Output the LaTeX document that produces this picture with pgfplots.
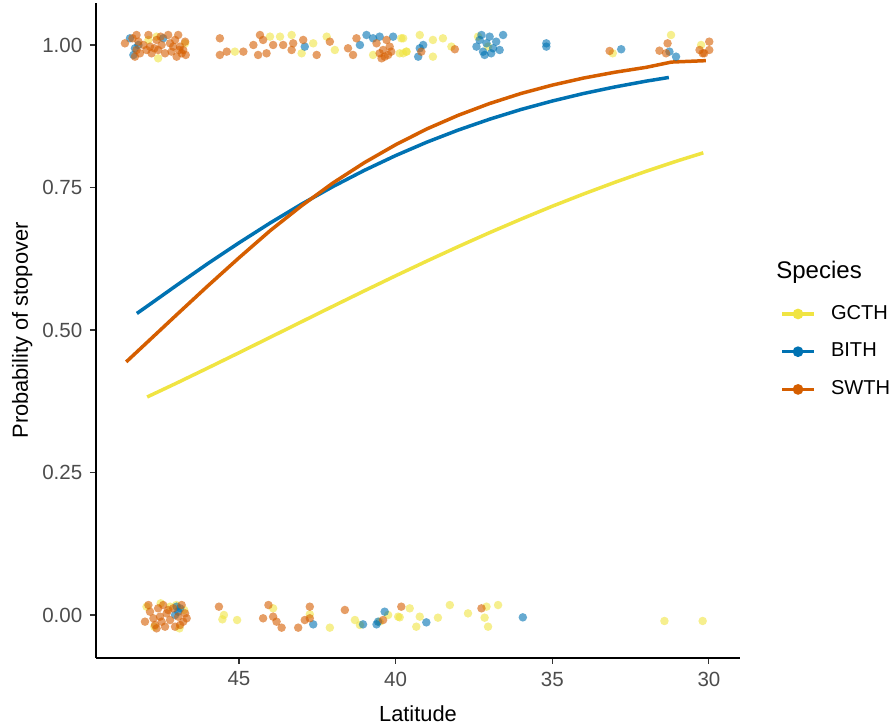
\documentclass[border=0pt]{standalone}
\usepackage{fontspec}
\setmainfont{Liberation Sans}
\usepackage{pgfplots}
\pgfplotsset{compat=1.18}
\definecolor{gcth}{HTML}{F0E442}
\definecolor{bith}{HTML}{0072B2}
\definecolor{swth}{HTML}{D55E00}
\pgfplotsset{jit/.style={only marks, mark=*, mark size=1.95pt, forget plot,
  draw=none, fill=#1, mark options={draw opacity=0, fill opacity=0.6, fill=#1}}}
\begin{document}
\begin{tikzpicture}
\useasboundingbox (-43.97pt,-30.69pt) rectangle (365.03pt,301.36pt);
\begin{axis}[
  scale only axis, width=294.95pt, height=300.0pt,
  x dir=reverse, xmin=29.009, xmax=49.564,
  ymin=-0.0754, ymax=1.0737,
  axis x line*=bottom, axis y line*=left,
  axis line style={black, line width=0.6pt, -},
  tick align=outside, major tick length=2.75pt,
  tick style={black!80, line width=0.5pt},
  xtick={30,35,40,45},
  ytick={0,0.25,0.5,0.75,1},
  yticklabels={0.00,0.25,0.50,0.75,1.00},
  /pgf/number format/assume math mode=true,
  tick label style={font=\fontsize{9.4}{11}\selectfont, text=black!70},
  xlabel={Latitude}, ylabel={Probability of stopover},
  label style={font=\fontsize{11}{13}\selectfont},
  every axis x label/.style={at={(axis description cs:0.5,-0.0962)}, anchor=base},
  every axis y label/.style={at={(axis description cs:-0.1056,0.5)}, anchor=base, rotate=90},
  legend style={at={(axis description cs:1.062,0.4676)}, anchor=west, draw=none, fill=none,
    inner sep=0pt, row sep=9.4pt, column sep=7pt,
    font=\fontsize{9.2}{11}\selectfont, nodes={inner sep=0pt}},
  legend cell align=left,
  legend image code/.code={\draw[line width=1.6pt] (0pt,0pt) -- (14.6pt,0pt); \fill (7.3pt,0pt) circle (1.6pt);},
  clip=false,
]
% ---- jittered observations ----
\addplot[jit=gcth] coordinates {
(47.63,1.0146)(47.58,0.9766)(46.72,1.0029)(47.89,1.0088)
(45.13,0.9883)(44.01,1.0146)(43.69,1.0146)(43.32,1.0175)(43.00,0.9854)(42.63,1.0029)(42.20,1.0146)(41.94,0.9912)(40.72,0.9825)(39.82,1.0117)(39.87,0.9854)(39.66,0.9883)
(39.76,1.0117)(39.76,0.9854)(39.23,1.0175)(39.65,0.9883)(38.81,1.0088)(38.49,1.0117)(38.81,0.9795)(38.22,0.9971)(37.37,1.0146)(37.05,0.9971)(31.21,1.0175)(30.25,1.0)(33.07,0.9854)
(47.95,0.0146)(47.5,0.0205)(47.0,0.0175)(46.9,-0.0234)(47.7,-0.0205)(46.75,0.0088)(47.2,0.0146)
(45.48,0.0)(45.53,-0.0076)(45.06,-0.0088)(43.91,0.0117)(42.74,0.0012)(42.10,-0.0222)(41.30,-0.0088)(41.14,-0.0175)(40.24,0.0)(39.92,-0.0029)(40.51,-0.0117)
(39.87,-0.0041)(39.55,0.0117)(39.23,-0.0029)(39.34,-0.0205)(38.65,-0.0047)(38.27,0.0175)(37.69,0.0029)(37.16,-0.0047)(37.10,0.0146)(37.05,-0.0205)(36.73,0.0175)(31.42,-0.0105)(30.20,-0.0105)
};
\addplot[jit=bith] coordinates {
(48.48,1.0117)(48.37,0.9825)(48.32,0.9942)(47.42,1.0117)(48.21,1.0)
(42.90,0.9971)(40.93,1.0175)(40.72,1.0117)(40.51,1.0146)(40.08,1.0146)(41.14,1.0)
(39.23,0.9942)(39.28,0.9795)(39.12,1.0)(37.42,0.9971)(37.32,1.0088)(37.21,0.9883)(37.10,1.0029)(37.00,1.0146)(36.89,0.9942)(36.79,1.0058)(36.68,0.9912)(36.57,1.0175)(37.16,0.9825)(36.95,0.9854)(37.26,1.0175)(35.19,0.9971)(35.19,1.0029)(32.80,0.9925)(31.26,0.9883)(31.05,0.9795)
(46.99,0.0146)(46.94,0.0058)(46.88,0.0117)(47.04,0.0)
(42.63,-0.0164)(41.04,-0.0164)(40.61,-0.0164)(40.35,0.0058)(40.56,-0.0117)
(39.02,-0.0129)(35.94,-0.0041)
};
\addplot[jit=swth] coordinates {
(48.64,1.0029)(48.27,1.0175)(48.21,1.0058)(48.27,0.9912)(48.16,0.9854)(48.32,0.9795)
(47.89,1.0175)(47.84,0.9971)(47.79,0.9854)(47.63,1.0088)(47.58,0.9912)(47.47,1.0)(47.36,0.9854)
(47.26,1.0175)(47.20,1.0029)(47.15,0.9883)(47.04,1.0088)(46.99,0.9795)(46.94,1.0175)(46.88,0.9971)(46.83,0.9854)(46.72,1.0058)(46.78,0.9912)
(48.05,1.0)(47.7,0.9942)(47.1,0.9971)(46.9,0.9912)(47.5,1.0146)(46.7,0.9825)(48.4,1.0117)(47.95,0.9912)
(45.61,1.0117)(45.61,0.9825)(45.39,0.9883)(44.86,0.9883)(44.54,1.0)(44.33,1.0175)(44.23,1.0088)(44.39,0.9825)(44.12,0.9854)(43.91,1.0)(43.59,1.0)(43.27,1.0029)(43.32,0.9912)(42.95,1.0088)(42.52,0.9825)(42.10,1.0058)(41.52,0.9942)(41.36,0.9825)(41.25,1.0117)
(40.40,0.9912)(40.35,0.9795)(40.61,1.0029)(40.51,0.9854)(40.29,1.0088)(40.19,0.9971)(40.24,0.9825)(40.45,0.9766)(40.14,0.9883)
(39.18,0.9883)(38.11,0.9925)(33.17,0.9895)(31.58,0.99)(31.32,1.0029)(31.37,0.9854)(30.30,0.9912)(30.20,0.9854)(29.99,1.0058)(29.99,0.9912)(30.15,0.9854)
(48.00,-0.0117)(47.89,0.0175)(47.84,0.0058)(47.73,-0.0058)(47.68,-0.0175)(47.58,0.0117)(47.52,-0.0029)(47.42,0.0175)(47.36,-0.0205)(47.31,0.0029)(47.20,-0.0088)(47.10,0.0117)(47.04,-0.0205)(46.94,-0.0029)(46.83,0.0175)(46.78,-0.0117)(46.72,0.0029)(46.67,-0.0058)(47.63,-0.0234)(47.47,-0.0117)(47.26,0.0088)(46.88,-0.0175)
(45.64,0.0146)(44.06,0.0175)(44.23,-0.0058)(43.91,-0.0029)(43.80,-0.0117)(43.64,-0.0222)(43.11,-0.0222)(42.90,-0.0088)(42.74,0.0146)(42.74,-0.0058)(41.62,0.0088)(40.40,-0.0088)(39.82,0.0146)
(37.26,0.0117)
};
% ---- fitted curves ----
\addplot[color=gcth, line width=1.6pt] coordinates {
(47.93,0.3825)(47,0.4066)(46,0.4332)(45,0.4601)(44,0.4873)(43,0.5145)(42,0.5417)(41,0.5686)(40,0.5951)(39,0.6210)(38,0.6463)(37,0.6708)(36,0.6944)(35,0.7171)(34,0.7386)(33,0.7591)(32,0.7785)(31,0.7968)(30.18,0.8108)
};
\addlegendentry{GCTH}
\addplot[color=bith, line width=1.6pt] coordinates {
(48.26,0.529)(48,0.539)(47,0.578)(46,0.6163)(45,0.6529)(44,0.6879)(43,0.7209)(42,0.7516)(41,0.7800)(40,0.8060)(39,0.8296)(38,0.8508)(37,0.8698)(36,0.8868)(35,0.9017)(34,0.9149)(33,0.9264)(32,0.9366)(31.28,0.9430)
};
\addlegendentry{BITH}
\addplot[color=swth, line width=1.6pt] coordinates {
(48.6,0.4440)(48,0.4748)(47,0.5262)(46,0.5771)(45,0.6266)(44,0.6745)(43,0.7180)(42,0.7580)(41,0.7935)(40,0.8250)(39,0.8528)(38,0.8767)(37,0.8973)(36,0.9149)(35,0.9296)(34,0.9420)(33,0.9522)(32,0.9608)(31.2,0.9700)(30.1,0.9725)
};
\addlegendentry{SWTH}
\end{axis}
\node[anchor=base west, font=\fontsize{11}{13}\selectfont, inner sep=0pt] at (311.4pt,174.0pt) {Species};
\end{tikzpicture}
\end{document}
